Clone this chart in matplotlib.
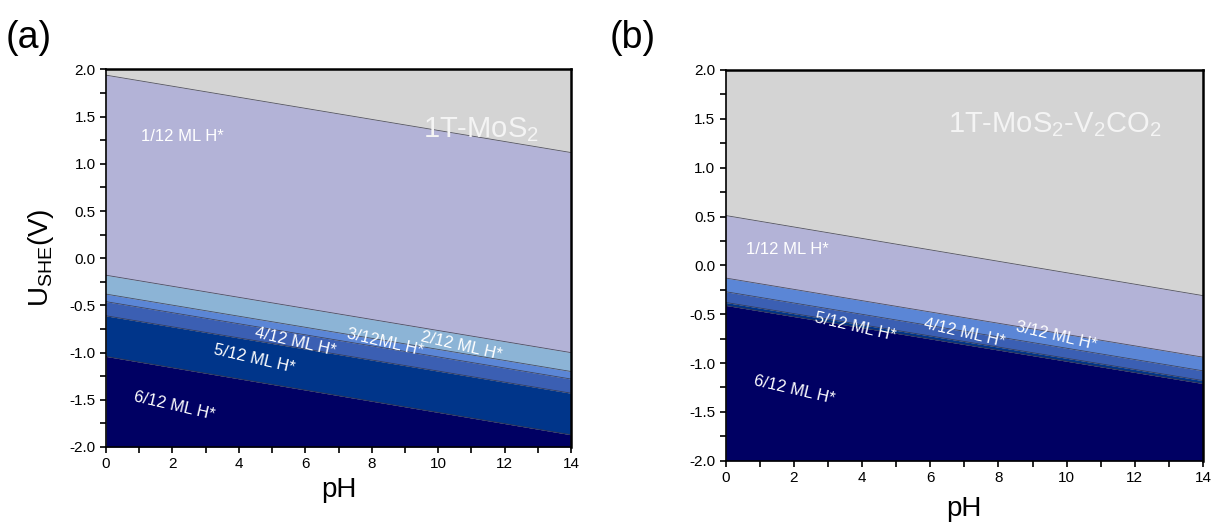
import matplotlib
matplotlib.use("Agg")
import matplotlib.pyplot as plt
import numpy as np

plt.rcParams['font.family'] = ['Liberation Sans', 'DejaVu Sans']
plt.rcParams['mathtext.fontset'] = 'custom'
plt.rcParams['mathtext.rm'] = 'Liberation Sans'

pH = [0, 14]

# Panel (a) 1T-MoS2: phase boundaries U(pH) at pH 0 and pH 14
a_bounds = [
    [1.94, 1.12],    # clean / 1/12
    [-0.18, -1.00],  # 1/12 / 2/12
    [-0.38, -1.20],  # 2/12 / 3/12
    [-0.46, -1.28],  # 3/12 / 4/12
    [-0.61, -1.43],  # 4/12 / 5/12
    [-1.04, -1.87],  # 5/12 / 6/12
]
a_colors = ['#d4d4d4', '#b3b3d7', '#8cb4d6', '#5b86d6', '#3b5fb3', '#00358a', '#000063']

# Panel (b) 1T-MoS2-V2CO2
b_bounds = [
    [0.51, -0.31],   # clean / 1/12
    [-0.13, -0.94],  # 1/12 / 3/12
    [-0.27, -1.08],  # 3/12 / 4/12
    [-0.38, -1.18],  # 4/12 / 5/12
    [-0.41, -1.21],  # 5/12 / 6/12
]
b_colors = ['#d4d4d4', '#b3b3d7', '#5b86d6', '#3b5fb3', '#00358a', '#000063']

a_labels = [("1/12 ML H*", 2.3, 1.29, 0), ("2/12 ML H*", 10.7, -0.93, -13),
            ("3/12ML H*", 8.4, -0.89, -13), ("4/12 ML H*", 5.7, -0.89, -13),
            ("5/12 ML H*", 4.46, -1.07, -13), ("6/12 ML H*", 2.05, -1.56, -13)]
b_labels = [("1/12 ML H*", 1.8, 0.16, 0), ("5/12 ML H*", 3.8, -0.63, -13),
            ("4/12 ML H*", 7.0, -0.69, -13), ("3/12 ML H*", 9.7, -0.72, -13),
            ("6/12 ML H*", 2.0, -1.28, -13)]

fig = plt.figure(figsize=(12.15, 5.29), dpi=100)
W, H = 1215, 529
axA = fig.add_axes([106/W, 1-447/H, (571-106)/W, (447-69.5)/H])
axB = fig.add_axes([725.7/W, 1-460.7/H, (1203-725.7)/W, (460.7-70)/H])


def draw(ax, bounds, colors, labels, title, xpad):
    x = np.array(pH, dtype=float)
    edges = [np.array([2.0, 2.0])] + [np.array(b, dtype=float) for b in bounds] + [np.array([-2.0, -2.0])]
    for i, c in enumerate(colors):
        ax.fill_between(x, edges[i + 1], edges[i], color=c, lw=0)
    for b in bounds:
        ax.plot(x, b, color='#333344', lw=0.6, alpha=0.8)
    ax.set_xlim(0, 14)
    ax.set_ylim(-2, 2)
    ax.set_xticks(np.arange(0, 15, 2))
    ax.set_xticks(np.arange(1, 14, 2), minor=True)
    ax.set_yticks(np.arange(-2, 2.01, 0.5))
    ax.set_yticks(np.arange(-1.75, 2, 0.5), minor=True)
    ax.yaxis.set_major_formatter(matplotlib.ticker.FormatStrFormatter('%.1f'))
    ax.tick_params(which='both', direction='out', length=4, width=1.2, labelsize=11)
    for s in ax.spines.values():
        s.set_linewidth(1.2)
    ax.spines['top'].set_linewidth(1.8)
    ax.spines['right'].set_linewidth(1.8)
    ax.set_xlabel('pH', fontsize=20, labelpad=xpad)
    for t, px, u, r in labels:
        ax.text(px, u, t, color='white', fontsize=12, rotation=r, ha='center', va='center')
    ax.text(title[1], title[2], title[0], color='#f4f4f4', fontsize=21, ha='center', va='center')


draw(axA, a_bounds, a_colors, a_labels, ("1T-MoS$_2$", 11.3, 1.36), 4)
draw(axB, b_bounds, b_colors, b_labels, ("1T-MoS$_2$-V$_2$CO$_2$", 9.65, 1.44), 8)

axA.set_ylabel('U$_{\\mathregular{SHE}}$(V)', fontsize=20, labelpad=10)

fig.text(6/W, 1-38/H, '(a)', fontsize=27, va='center', ha='left')
fig.text(610/W, 1-38/H, '(b)', fontsize=27, va='center', ha='left')

fig.savefig('out.png', dpi=100)
